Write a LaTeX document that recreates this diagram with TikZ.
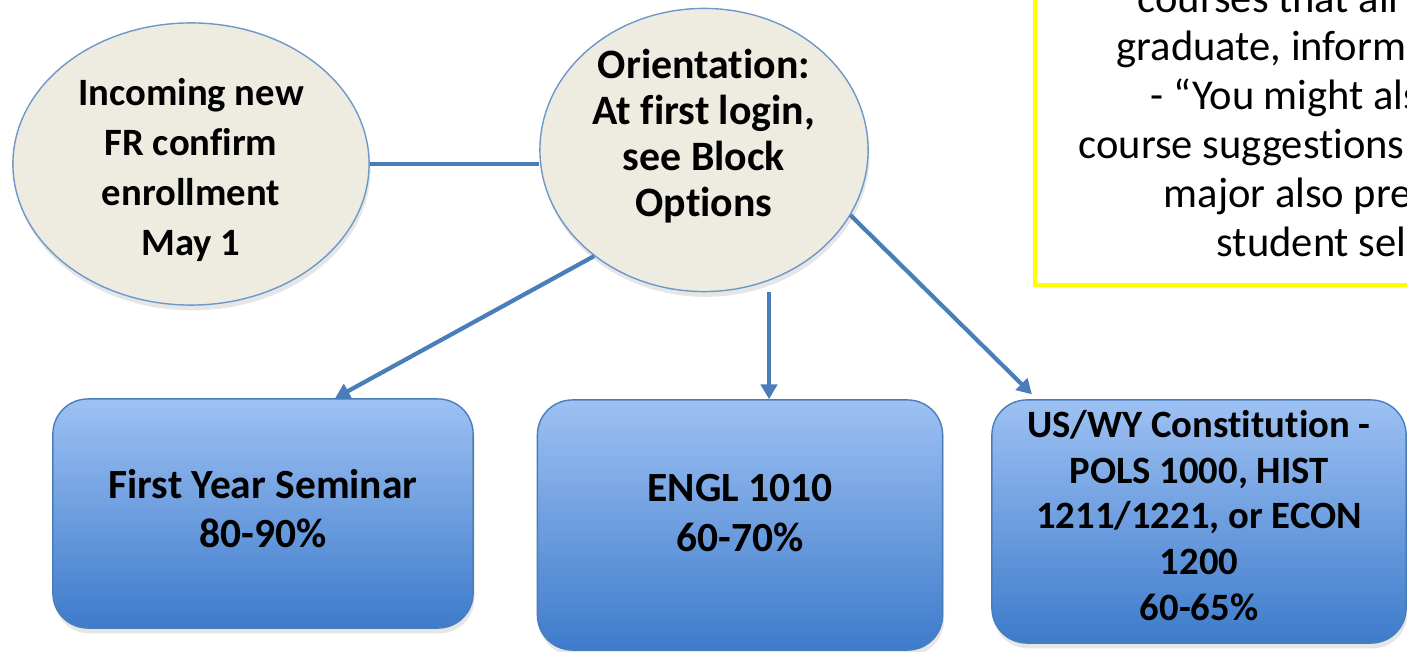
\documentclass[tikz,border=0pt]{standalone}
\usepackage{fontspec}
\setmainfont{Carlito}[Ligatures=NoCommon]
\usetikzlibrary{arrows.meta,shapes.geometric,shadows}
\definecolor{linkblue}{RGB}{74,126,187}
\definecolor{bubblefill}{RGB}{238,236,225}
\definecolor{boxtop}{RGB}{157,193,243}
\definecolor{boxbottom}{RGB}{62,123,203}
\definecolor{noteyellow}{RGB}{255,255,0}
\tikzset{
  bubble/.style={ellipse, draw=linkblue!80, thin, fill=bubblefill, inner sep=0pt,
    drop shadow={opacity=0.2, shadow xshift=0.4pt, shadow yshift=-1.5pt}},
  block/.style={rectangle, rounded corners=0.35cm, draw=linkblue, thin, inner sep=0pt,
    top color=boxtop, bottom color=boxbottom,
    drop shadow={opacity=0.2, shadow xshift=0.4pt, shadow yshift=-1.5pt}},
  bubbletext/.style={align=center, inner sep=0pt, font=\bfseries\fontsize{11}{14.2}\selectfont},
  blocktext/.style={align=center, inner sep=0pt, font=\bfseries\fontsize{11.8}{14}\selectfont},
  link/.style={draw=linkblue, line width=1.2pt},
  linkarrow/.style={link, -{Triangle[length=4.2pt,width=4.6pt]}},
  noteframe/.style={draw=noteyellow, line width=1.3pt},
  notetext/.style={anchor=base west, inner sep=0pt, font=\fontsize{12.1}{13.8}\selectfont}
}
\begin{document}
\begin{tikzpicture}[x=0.01cm, y=-0.01cm]
      \useasboundingbox (0,0) rectangle (1407,652);
      \clip (0,0) rectangle (1407,652);
      \node[bubble, minimum width=3.56cm, minimum height=2.82cm] (incoming) at (191,164) {};
      \node[bubbletext] (incoming text) at ([yshift=-0.06cm]incoming.center)
        {Incoming new\\FR confirm\\enrollment\\May 1};
      \node[bubble, minimum width=3.28cm, minimum height=2.83cm] (orient) at (704,150) {};
      \node[bubbletext, font=\bfseries\fontsize{11.9}{13.1}\selectfont] (orient text)
        at ([yshift=0.14cm]orient.center) {Orientation:\\At first login,\\see Block\\Options};
      \node[block, minimum width=4.2cm, minimum height=2.29cm] (fys) at (263,513.5) {};
      \node[blocktext] (fys text) at ([yshift=0.05cm]fys.center) {First Year Seminar\\80-90\%};
      \node[block, minimum width=4.05cm, minimum height=2.5cm] (engl) at (740,525) {};
      \node[blocktext] (engl text) at ([yshift=0.12cm]engl.center) {ENGL 1010\\60-70\%};
      \node[block, minimum width=4.14cm, minimum height=2.43cm] (const) at (1199,521.5) {};
      \node[blocktext, font=\bfseries\fontsize{11}{13}\selectfont] (const text)
        at ([yshift=0.06cm]const.center)
        {US/WY Constitution -\\POLS 1000, HIST\\1211/1221, or ECON\\1200\\60-65\%};
      \draw[link] (incoming.east) -- (incoming.east -| orient.west);
      \draw[linkarrow] (orient.224) -- ([xshift=0.72cm]fys.north);
      \draw[linkarrow] ([xshift=0.29cm]engl.north |- orient.south) -- ([xshift=0.29cm]engl.north);
      \draw[linkarrow, shorten >=0.07cm] (orient.-24) -- ([xshift=-1.62cm]const.north);
      \draw[noteframe] (1035,-20) rectangle (1460,285);
      \node[notetext] (note1) at (1137,13) {courses that all r};
      \node[notetext] (note2) at (1116,61) {graduate, informe};
      \node[notetext] (note3) at (1150,110) {- “You might als};
      \node[notetext] (note4) at (1078,159) {course suggestions};
      \node[notetext] (note5) at (1163,208) {major also pre};
      \node[notetext] (note6) at (1216,257) {student sel};
    \end{tikzpicture}
\end{document}
